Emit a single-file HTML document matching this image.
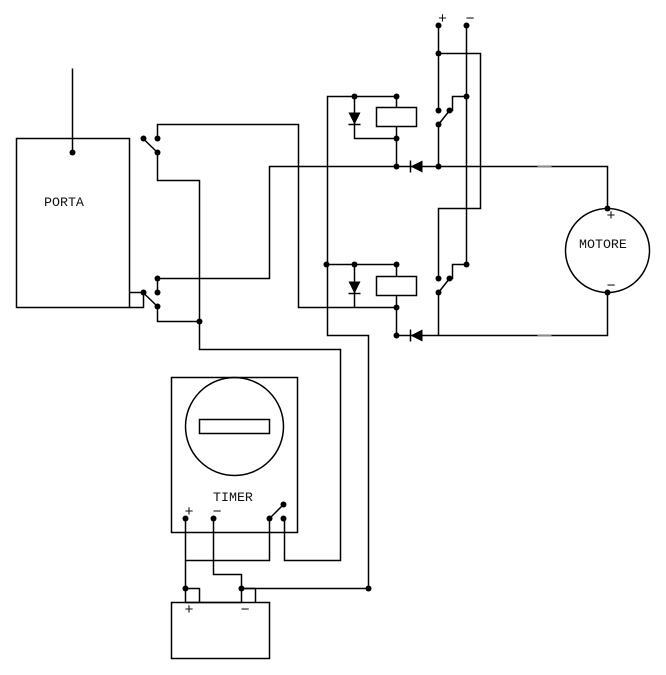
<!DOCTYPE html>
<html><head><meta charset="utf-8"><style>
html,body{margin:0;padding:0;background:#fff}
svg{display:block}
text{font-family:"Liberation Mono",monospace;font-size:13.3px;fill:#111}
text.s{font-size:15px;text-anchor:middle}
</style></head><body>
<svg width="666" height="675" viewBox="0 0 666 675" xmlns="http://www.w3.org/2000/svg">
<g transform="translate(0.5 0.5)">
<g fill="none" stroke="#000" stroke-width="1.5">
<rect x="16" y="138" width="113" height="169"/>
<path d="M72 68V152"/>
<path d="M142.5 138L157 152M157 138V124H298V307H396"/>
<path d="M157 152V180H199V349H340V560H284V518"/>
<path d="M129 292H143V307H129"/>
<path d="M142.500 292L157 306M157 278V292M157 278H269V166H607V208"/>
<path d="M157 306V321H199"/>
<path d="M438 25V110M438 53H480V208H438V278M466 25V264H452V278H449L438 292M438 292V335"/>
<path d="M449 110H452V96H466M449 110L438 124V166"/>
<path d="M396 335H607V292"/>
<path d="M354 96H327V335H368V588H241"/>
<path d="M354 96H396V107M396 126V166M354 96V138H396"/>
<path d="M326 264H396V276M396 295V335M354 264V307"/>
<rect x="376" y="107" width="40" height="19"/>
<rect x="376" y="276" width="40" height="19"/>
<path d="M348 124H360M348 293H360M410 160V172M410 329V341"/>
<circle cx="607" cy="250" r="42"/>
<rect x="171" y="377" width="126" height="155"/>
<circle cx="234" cy="426" r="49"/>
<rect x="199" y="419" width="70" height="14"/>
<rect x="171" y="602" width="98" height="56"/>
<path d="M185 518V602M185 560H269V518L283 504M213 518V574H241V602M185 588H199V602M241 588H255V602M241 602H185"/>
</g>
<path d="M537 166H551M537 335H551" stroke="#888" stroke-width="1.500"/>
<g fill="#000">
<path d="M348 112H360L354 124Z"/>
<path d="M348 281H360L354 293Z"/>
<path d="M410 166L422 160V172Z"/>
<path d="M410 335L422 329V341Z"/>
</g>
<g fill="#000">
<circle cx="72" cy="152" r="3"/>
<circle cx="143" cy="138" r="3"/><circle cx="157" cy="138" r="3"/><circle cx="157" cy="152" r="3"/>
<circle cx="157" cy="278" r="3"/><circle cx="157" cy="292" r="3"/><circle cx="143" cy="292" r="3"/><circle cx="157" cy="306" r="3"/>
<circle cx="199" cy="321" r="3"/>
<circle cx="438" cy="25" r="3"/><circle cx="466" cy="25" r="3"/><circle cx="438" cy="53" r="3"/>
<circle cx="354" cy="96" r="3"/><circle cx="396" cy="96" r="3"/><circle cx="466" cy="96" r="3"/>
<circle cx="438" cy="110" r="3"/><circle cx="449" cy="110" r="3"/><circle cx="438" cy="124" r="3"/>
<circle cx="396" cy="138" r="3"/><circle cx="396" cy="166" r="3"/><circle cx="438" cy="166" r="3"/>
<circle cx="326" cy="264" r="3"/><circle cx="354" cy="264" r="3"/><circle cx="396" cy="264" r="3"/><circle cx="466" cy="264" r="3"/>
<circle cx="438" cy="278" r="3"/><circle cx="449" cy="278" r="3"/><circle cx="438" cy="292" r="3"/>
<circle cx="396" cy="307" r="3"/><circle cx="396" cy="335" r="3"/>
<circle cx="607" cy="208" r="3"/><circle cx="607" cy="292" r="3"/>
<circle cx="185" cy="518" r="3"/><circle cx="213" cy="518" r="3"/><circle cx="269" cy="518" r="3"/><circle cx="283" cy="504" r="3"/><circle cx="283" cy="518" r="3"/>
<circle cx="185" cy="588" r="3"/><circle cx="241" cy="588" r="3"/><circle cx="368" cy="588" r="3"/>
</g>
</g>
<text x="44" y="206">PORTA</text>
<text x="213" y="501">TIMER</text>
<text x="579" y="248">MOTORE</text>
<text class="s" x="442.500" y="23">+</text>
<text class="s" x="470" y="23">−</text>
<text class="s" x="611" y="220">+</text>
<text class="s" x="611" y="290">−</text>
<text class="s" x="189" y="516">+</text>
<text class="s" x="217" y="516">−</text>
<text class="s" x="189" y="614">+</text>
<text class="s" x="245" y="614">−</text>
</svg>
</body></html>
